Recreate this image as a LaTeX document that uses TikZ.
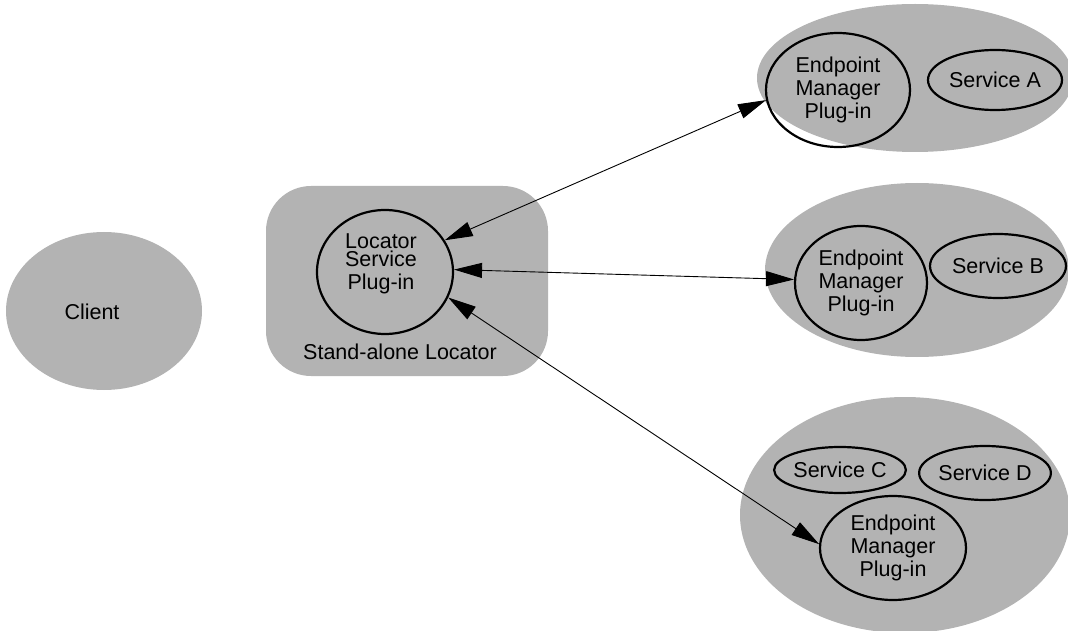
\documentclass[tikz,border=0pt]{standalone}
\usepackage{fontspec}
\setmainfont{Liberation Sans}
\usetikzlibrary{shapes.geometric,arrows.meta}
\definecolor{shade}{RGB}{179,179,179}
\tikzset{
  blob/.style={ellipse, fill=shade, draw=none, inner sep=0pt},
  ring/.style={ellipse, draw=black, line width=2.2pt, inner sep=0pt,
               align=center, font=\fontsize{21.5}{23}\selectfont},
  caption/.style={inner sep=0pt, align=center, font=\fontsize{21.5}{23}\selectfont},
  link/.style={line width=0.9pt, {Triangle[length=28pt,width=15pt]}-{Triangle[length=28pt,width=15pt]}}
}
\begin{document}
\begin{tikzpicture}[x=1pt,y=-1pt]
\useasboundingbox (0,0) rectangle (1068,631);

% client
\node[blob, minimum width=196pt, minimum height=158pt] (client) at (104,311) {};
\node[caption] (clientlabel) at (92,312) {Client};

% stand-alone locator
\node[fill=shade, rounded corners=45pt, minimum width=282pt, minimum height=190pt, inner sep=0pt] (locbox) at (407,281) {};
\node[caption] (loclabel) at (400,352) {Stand-alone Locator};
\node[ring, minimum width=136pt, minimum height=124pt] (loc) at (385,272) {};
\node[caption, font=\fontsize{21.5}{18}\selectfont] (loctext) at (381,264) {Locator\\Service\\[5pt]Plug-in};

% host A
\node[blob, minimum width=316pt, minimum height=148pt] (hostA) at (915,78) {};
\node[ring, minimum width=144pt, minimum height=114pt] (epA) at (838,90) {Endpoint\\Manager\\Plug-in};
\node[ring, minimum width=134pt, minimum height=60pt] (svcA) at (995,80) {Service A};

% host B
\node[blob, minimum width=304pt, minimum height=174pt] (hostB) at (917,270) {};
\node[ring, minimum width=132pt, minimum height=114pt] (epB) at (861,283) {Endpoint\\Manager\\Plug-in};
\node[ring, minimum width=136pt, minimum height=64pt] (svcB) at (998,266) {Service B};

% host C
\node[blob, minimum width=330pt, minimum height=236pt] (hostC) at (905,515) {};
\node[ring, minimum width=130pt, minimum height=46pt] (svcC) at (840,470) {Service C};
\node[ring, minimum width=130pt, minimum height=54pt] (svcD) at (985,473) {Service D};
\node[ring, minimum width=146pt, minimum height=104pt] (epC) at (893,548) {Endpoint\\Manager\\Plug-in};

% locator links
\draw[link] (loc.28) -- (epA.188);
\draw[link] (loc.2) -- (epB.177);
\draw[link] (loc.-22) -- (epC.177);
\end{tikzpicture}
\end{document}
